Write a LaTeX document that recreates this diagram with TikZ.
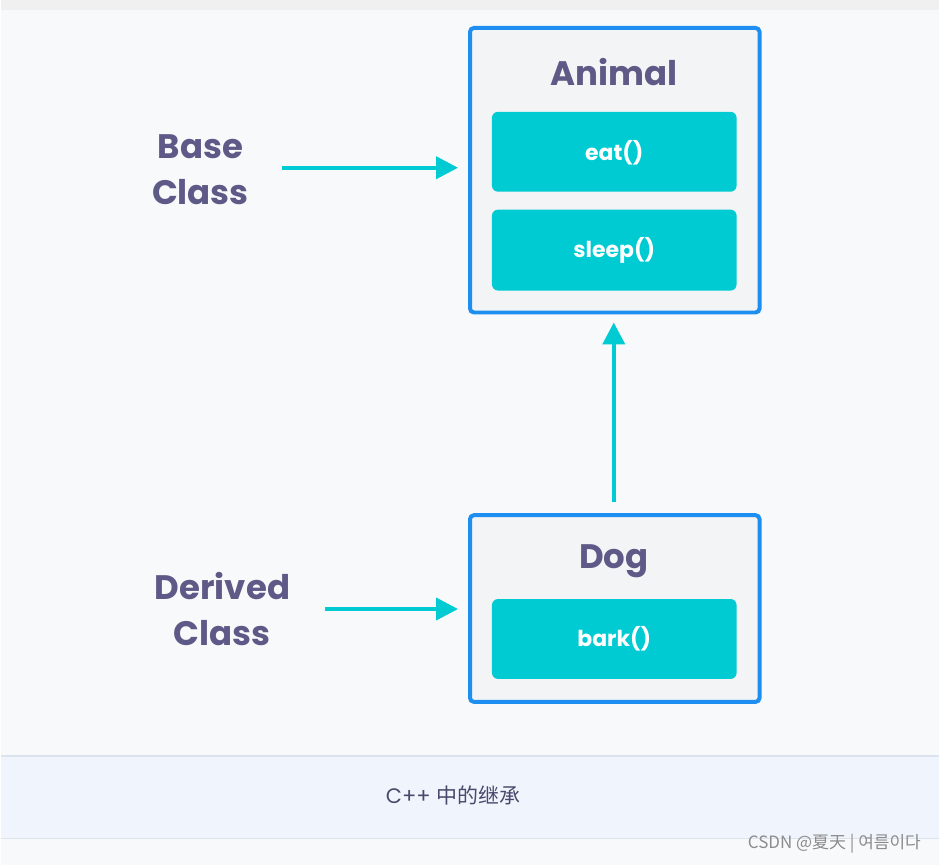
\documentclass[tikz,border=0pt]{standalone}
\usepackage{fontspec}
\setmainfont{Poppins}
\newfontfamily\cjk{Noto Sans CJK SC}
\newfontfamily\kr{Noto Sans CJK KR}
\usetikzlibrary{arrows.meta}
\definecolor{bgc}{HTML}{F8F9FB}
\definecolor{boxb}{HTML}{1E8EF0}
\definecolor{boxf}{HTML}{F3F4F6}
\definecolor{teal}{HTML}{00CBD3}
\definecolor{txt}{HTML}{5E5A87}
\definecolor{capf}{HTML}{F0F5FD}
\definecolor{capl}{HTML}{DDE3EC}
\begin{document}
\begin{tikzpicture}[x=1pt,y=-1pt,
  cls/.style={draw=boxb,line width=4pt,fill=boxf,rounded corners=4pt},
  meth/.style={fill=teal,rounded corners=6pt,text=white,font=\bfseries\fontsize{22}{24}\selectfont},
  ttl/.style={text=txt,font=\bfseries\fontsize{34}{36}\selectfont},
  lbl/.style={text=txt,font=\bfseries\fontsize{34}{46}\selectfont,align=center},
  arr/.style={draw=teal,line width=4pt,-{Triangle[length=22pt,width=22pt]}}]
\fill[bgc] (0,0) rectangle (940,866);
\fill[black!6] (0,0) rectangle (940,10);
\fill[capf] (0,757) rectangle (940,840);
\draw[capl,line width=1.5pt] (0,757) -- (940,757) (0,840) -- (940,840);
% Animal
\draw[cls] (470,28) rectangle (760,313);
\node[ttl] (animal) at (614,72) {Animal};
\path[meth] (492,112) rectangle (737,192);
\node[meth,fill=none] (eat) at (614.5,153) {eat()};
\path[meth] (492,210) rectangle (737,291);
\node[meth,fill=none] (sleep) at (614.5,251) {sleep()};
\coordinate (animalS) at (614,323);
\coordinate (animalW) at (458,168);
% Dog
\draw[cls] (470,516) rectangle (760,703);
\node[ttl] (dog) at (614,562) {Dog};
\path[meth] (492,600) rectangle (737,680);
\node[meth,fill=none] (bark) at (614.5,640) {bark()};
\coordinate (dogN) at (614,503);
\coordinate (dogW) at (458,610);
% labels
\node[lbl] (base) at (200,170) {Base\\Class};
\node[lbl] (derived) at (222,610) {Derived\\Class};
\coordinate (baseE) at (282,168);
\coordinate (derivedE) at (325,610);
\draw[arr] (baseE) -- (animalW);
\draw[arr] (derivedE) -- (dogW);
\draw[arr] (dogN) -- (animalS);
% caption
\node[text=txt!80!black,font=\fontsize{21}{24}\selectfont] (cap) at (453,797) {C++ {\cjk 中的继承}};
\node[text=black!45,font=\cjk\fontsize{17}{20}\selectfont,anchor=east] (wm) at (925,845) {CSDN @夏天 | {\kr 여름이다}};
\end{tikzpicture}
\end{document}
